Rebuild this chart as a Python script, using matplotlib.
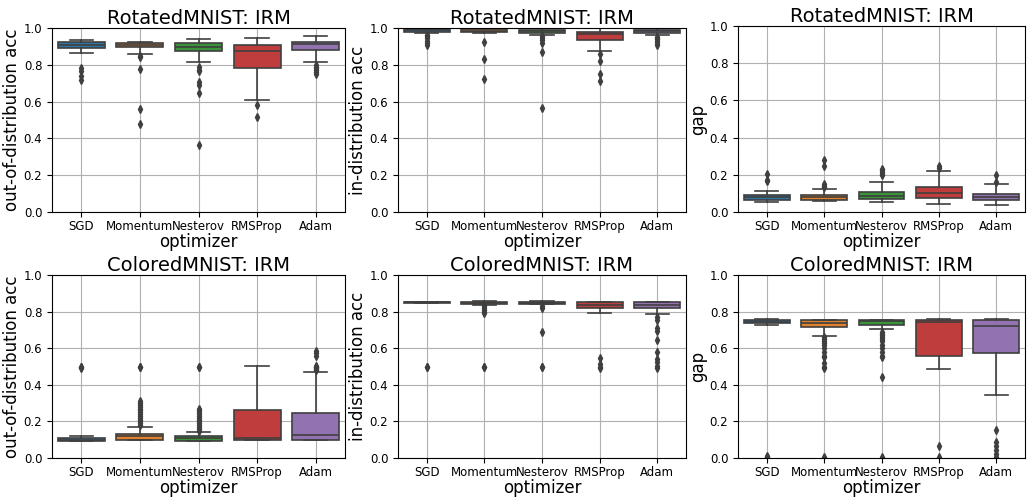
import matplotlib.pyplot as plt

optimizers = ["SGD", "Momentum", "Nesterov", "RMSProp", "Adam"]
colors = ["#3274a1", "#e1812c", "#3a923a", "#c03d3e", "#9372b2"]

# five-number summaries per optimizer: [whislo, q1, med, q3, whishi]
rot_ood_box = [[0.864, 0.889, 0.907, 0.924, 0.933],
               [0.860, 0.895, 0.909, 0.918, 0.925],
               [0.815, 0.876, 0.896, 0.918, 0.940],
               [0.607, 0.784, 0.876, 0.905, 0.944],
               [0.816, 0.880, 0.913, 0.924, 0.955]]
rot_ood_fliers = [[0.78, 0.764, 0.74, 0.72],
                  [0.849, 0.84, 0.776, 0.558, 0.478],
                  [0.79, 0.773, 0.764, 0.709, 0.69, 0.649, 0.364],
                  [0.582, 0.515],
                  [0.80, 0.79, 0.78, 0.77, 0.76, 0.75]]

rot_id_box = [[0.973, 0.980, 0.987, 0.995, 0.998],
              [0.972, 0.976, 0.984, 0.995, 0.998],
              [0.964, 0.973, 0.984, 0.991, 0.998],
              [0.876, 0.935, 0.969, 0.980, 0.998],
              [0.960, 0.973, 0.984, 0.991, 0.998]]
rot_id_fliers = [[0.964, 0.955, 0.945, 0.93, 0.92, 0.91],
                 [0.922, 0.831, 0.724],
                 [0.955, 0.945, 0.935, 0.918, 0.867, 0.564],
                 [0.86, 0.822, 0.751, 0.713],
                 [0.951, 0.945, 0.94, 0.93, 0.92, 0.91]]

rot_gap_box = [[0.052, 0.063, 0.079, 0.091, 0.111],
               [0.057, 0.066, 0.081, 0.091, 0.122],
               [0.052, 0.068, 0.088, 0.106, 0.160],
               [0.043, 0.075, 0.102, 0.134, 0.219],
               [0.038, 0.063, 0.079, 0.099, 0.151]]
rot_gap_fliers = [[0.206, 0.174, 0.167],
                  [0.281, 0.246, 0.152, 0.14, 0.135],
                  [0.233, 0.225, 0.215, 0.205, 0.2],
                  [0.246, 0.238],
                  [0.2, 0.161]]

col_ood_box = [[0.094, 0.094, 0.100, 0.109, 0.120],
               [0.096, 0.096, 0.118, 0.129, 0.172],
               [0.094, 0.094, 0.109, 0.118, 0.140],
               [0.096, 0.096, 0.109, 0.263, 0.503],
               [0.096, 0.096, 0.127, 0.245, 0.472]]
col_ood_fliers = [[0.5, 0.495, 0.49],
                  [0.5, 0.495, 0.31, 0.30, 0.29, 0.28, 0.27, 0.26, 0.25, 0.24,
                   0.23, 0.22, 0.21, 0.20, 0.19, 0.18],
                  [0.5, 0.495, 0.27, 0.26, 0.25, 0.24, 0.23, 0.22, 0.21, 0.20,
                   0.19, 0.18, 0.17, 0.16, 0.15],
                  [],
                  [0.585, 0.575, 0.56, 0.505, 0.5, 0.495, 0.49, 0.485, 0.48]]

col_id_box = [[0.845, 0.847, 0.851, 0.853, 0.855],
              [0.837, 0.840, 0.848, 0.851, 0.857],
              [0.841, 0.844, 0.849, 0.853, 0.857],
              [0.790, 0.819, 0.835, 0.851, 0.855],
              [0.786, 0.820, 0.835, 0.851, 0.855]]
col_id_fliers = [[0.5, 0.495],
                 [0.83, 0.82, 0.81, 0.80, 0.795, 0.5, 0.495],
                 [0.83, 0.82, 0.686, 0.5, 0.495],
                 [0.544, 0.514, 0.5, 0.49],
                 [0.768, 0.754, 0.713, 0.695, 0.646, 0.577, 0.541, 0.523, 0.505, 0.492]]

col_gap_box = [[0.726, 0.737, 0.744, 0.756, 0.758],
               [0.668, 0.717, 0.740, 0.753, 0.755],
               [0.703, 0.729, 0.747, 0.753, 0.755],
               [0.487, 0.556, 0.742, 0.756, 0.758],
               [0.342, 0.575, 0.722, 0.756, 0.757]]
col_gap_fliers = [[0.01, 0.005],
                  [0.66, 0.65, 0.64, 0.63, 0.62, 0.60, 0.58, 0.56, 0.55, 0.52,
                   0.50, 0.49, 0.005],
                  [0.69, 0.68, 0.67, 0.66, 0.65, 0.64, 0.62, 0.60, 0.58, 0.56,
                   0.55, 0.441, 0.005],
                  [0.063, 0.005],
                  [0.152, 0.09, 0.068, 0.041, 0.02, 0.005]]

panels = [
    ("RotatedMNIST: IRM", "out-of-distribution acc", rot_ood_box, rot_ood_fliers),
    ("RotatedMNIST: IRM", "in-distribution acc", rot_id_box, rot_id_fliers),
    ("RotatedMNIST: IRM", "gap", rot_gap_box, rot_gap_fliers),
    ("ColoredMNIST: IRM", "out-of-distribution acc", col_ood_box, col_ood_fliers),
    ("ColoredMNIST: IRM", "in-distribution acc", col_id_box, col_id_fliers),
    ("ColoredMNIST: IRM", "gap", col_gap_box, col_gap_fliers),
]

W, H = 1030, 499
# axes boxes in pixels: left, top, right, bottom
rects = [(52, 28, 345, 212), (398, 28, 686, 212), (738, 26, 1025, 212),
         (52, 275, 345, 458), (398, 275, 686, 458), (738, 275, 1025, 458)]

line_c = "#3f3f3f"
fig = plt.figure(figsize=(W / 100, H / 100), dpi=100)

for (title, ylabel, box, fliers), (l, t, r, b) in zip(panels, rects):
    ax = fig.add_axes([l / W, 1 - b / H, (r - l) / W, (b - t) / H])
    stats = []
    for name, s, f in zip(optimizers, box, fliers):
        stats.append(dict(label=name, whislo=s[0], q1=s[1], med=s[2],
                          q3=s[3], whishi=s[4], fliers=f))
    bp = ax.bxp(stats, positions=range(5), widths=0.8, patch_artist=True,
                boxprops=dict(edgecolor=line_c, linewidth=1.2),
                medianprops=dict(color=line_c, linewidth=1.2),
                whiskerprops=dict(color=line_c, linewidth=1.2),
                capprops=dict(color=line_c, linewidth=1.2),
                flierprops=dict(marker="d", markerfacecolor=line_c,
                                markeredgecolor=line_c, markersize=4))
    for patch, c in zip(bp["boxes"], colors):
        patch.set_facecolor(c)
    ax.set_ylim(0, 1)
    ax.set_xlim(-0.5, 4.5)
    ax.set_yticks([0, 0.2, 0.4, 0.6, 0.8, 1.0])
    ax.grid(True)
    ax.tick_params(axis="x", labelsize=8.5, pad=2.5)
    ax.tick_params(axis="y", labelsize=8.5)
    ax.set_title(title, fontsize=14, pad=3)
    ax.set_ylabel(ylabel, fontsize=12, labelpad=2)
    ax.set_xlabel("optimizer", fontsize=12, labelpad=0)

fig.savefig("out.png", dpi=100)
